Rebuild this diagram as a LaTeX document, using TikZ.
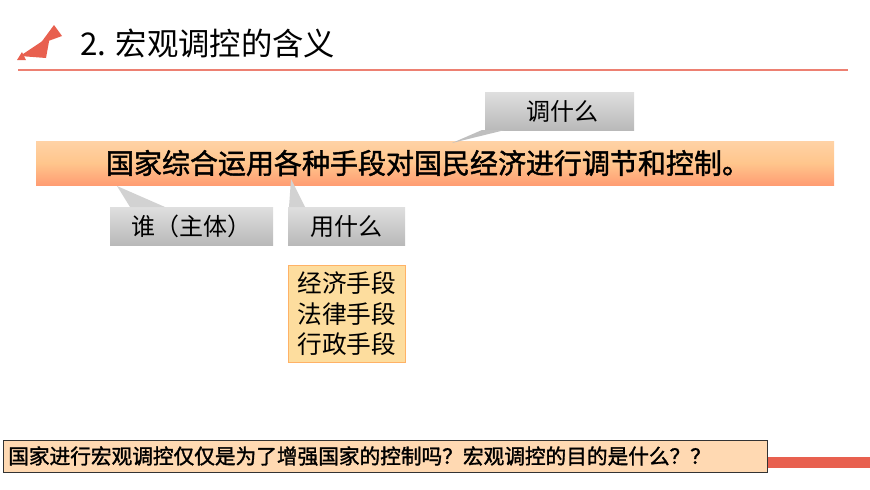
\documentclass[tikz,border=0pt]{standalone}
\usepackage{fontspec}
\setmainfont{Noto Sans CJK SC}
\newfontfamily\cjkb{Noto Sans CJK SC}[FakeBold=1.5]
\begin{document}
\begin{tikzpicture}[x=0.75pt,y=-0.75pt,
  callout/.style={draw=none,top color=gray!25,bottom color=gray!55},
  lbl/.style={inner sep=0pt,font=\fontsize{18}{20}\selectfont}]
\useasboundingbox (0,0) rectangle (870,489);
\definecolor{sal}{HTML}{E8604F}
% triangles
\fill[sal] (20,56) -- (50,36) -- (46,58) -- cycle;
\fill[sal] (40,44) -- (62,36) -- (54,25) -- cycle;
\fill[sal] (17,60) -- (22,52) -- (26,60) -- cycle;
\node[anchor=west,inner sep=0pt,font=\fontsize{23.5}{26}\selectfont] (title) at (80,43) {2. 宏观调控的含义};
\draw[sal!80,line width=0.8pt] (18,70) -- (848,70);
% main bar
\shade[top color=orange!35!white,bottom color=orange!60!red!55!white,middle color=orange!45!white] (36,141) rectangle (834,185);
\node[font=\cjkb\fontsize{21}{23}\selectfont,inner sep=0pt] (main) at (428,163) {国家综合运用各种手段对国民经济进行调节和控制。};
% callouts
\fill[callout] (485,92) rectangle (634,130);
\fill[gray!50] (482,130) -- (452,143) -- (505,130) -- cycle;
\node[lbl] (c1) at (562,111) {调什么};
\fill[callout] (110,207) rectangle (273,245);
\fill[gray!35] (130,207) -- (117,186) -- (165,207) -- cycle;
\node[lbl] (c2) at (191,226) {谁（主体）};
\fill[callout] (288,207) rectangle (405,245);
\fill[gray!35] (289,207) -- (291,179) -- (305,207) -- cycle;
\node[lbl] (c3) at (346,226) {用什么};
% yellow box
\node[draw=orange!60,fill=yellow!30!orange!35!white,minimum width=87.75pt,minimum height=72.75pt,anchor=north west,inner sep=0pt] (ybox) at (288,265) {};
\node[align=left,font=\fontsize{18.5}{23}\selectfont,inner sep=0pt] (ytext) at (ybox.center) {经济手段\\法律手段\\行政手段};
% bottom
\fill[sal] (767,457) rectangle (870,468);
\node[draw=black!80,fill=orange!30!white,minimum width=573pt,minimum height=24pt,anchor=north west,inner sep=0pt] (q) at (3,440) {};
\node[anchor=west,font=\cjkb\fontsize{15.5}{17}\selectfont,inner sep=0pt] (qt) at (8,456) {国家进行宏观调控仅仅是为了增强国家的控制吗？宏观调控的目的是什么？？};
\end{tikzpicture}
\end{document}
